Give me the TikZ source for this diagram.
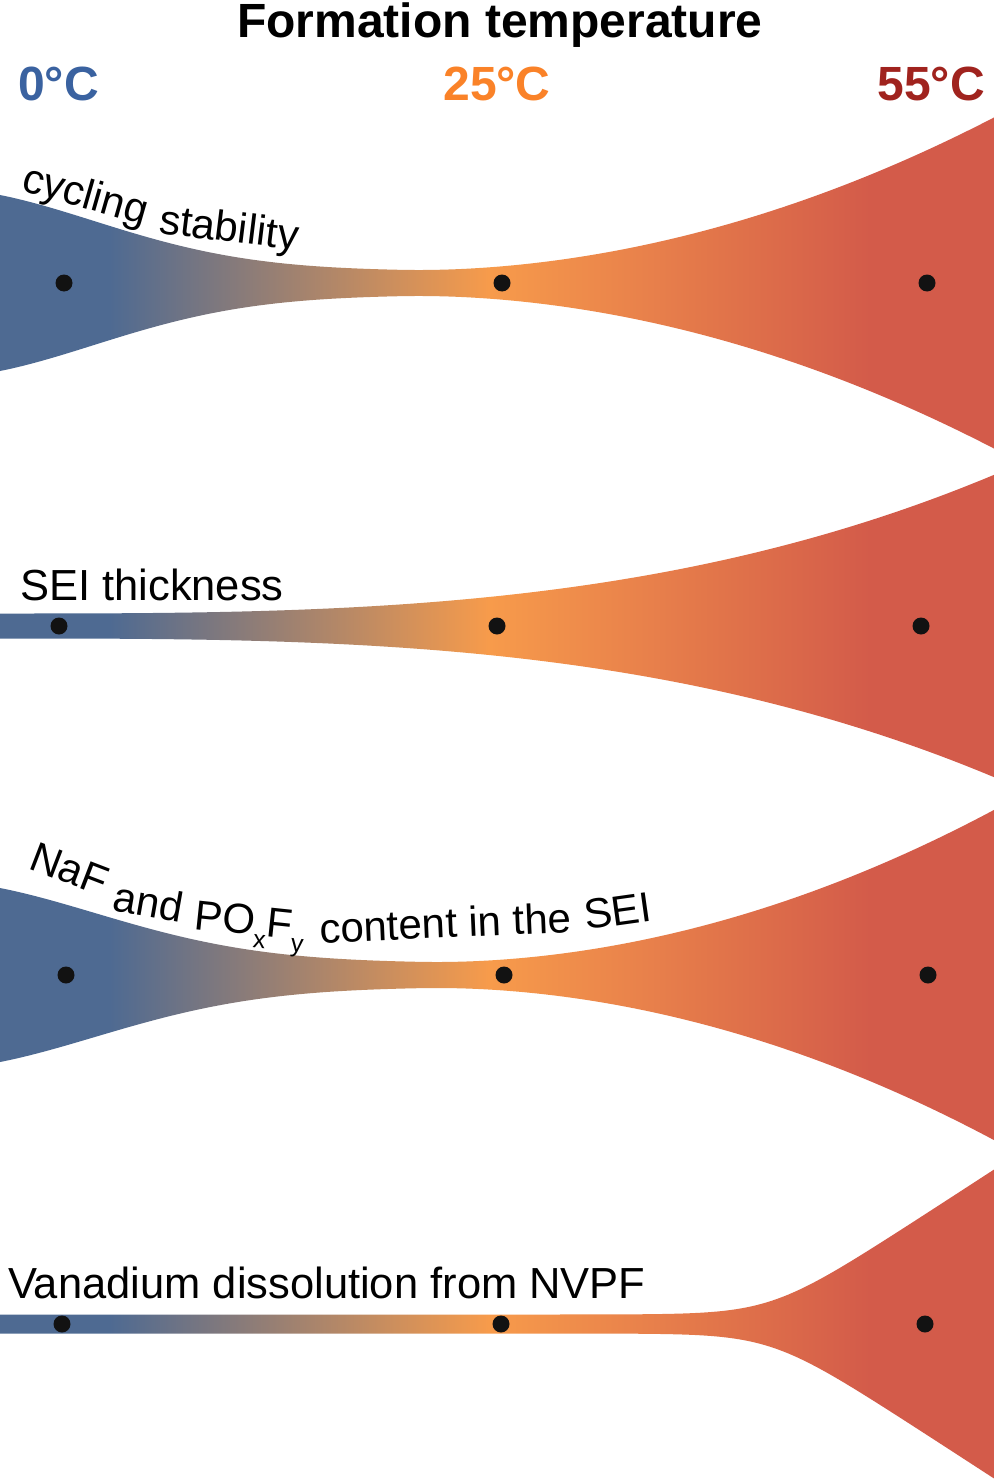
\documentclass[tikz,border=0pt]{standalone}
\usepackage{fontspec}
\setmainfont{Liberation Sans}
\definecolor{bandblue}{RGB}{78,106,146}
\definecolor{bandorange}{RGB}{247,155,75}
\definecolor{bandred}{RGB}{211,91,74}
\definecolor{tblue}{RGB}{58,98,160}
\definecolor{torange}{RGB}{250,130,40}
\definecolor{tred}{RGB}{160,35,30}
\pgfdeclarehorizontalshading{tempgrad}{100bp}{color(0bp)=(bandblue); color(30.5bp)=(bandblue); color(49.6bp)=(bandorange); color(68.8bp)=(bandred); color(100bp)=(bandred)}
\newcommand{\labfont}{\fontsize{43.5}{50}\selectfont}
\newcommand{\curvefont}{\fontsize{42}{50}\selectfont}
\newcommand{\subfont}{\fontsize{25}{30}\selectfont}
\newcommand{\headfont}{\fontsize{48}{56}\selectfont\bfseries}
\begin{document}
\begin{tikzpicture}[x=1pt,y=-1pt,
 declare function={
   hA(\x)=12+76*exp(-min(\x/380+(\x/227)*(\x/227),9))+153*(max(\x-400,0)/593)*(max(\x-400,0)/593);
   hB(\x)=12.5+137*(\x/990)*(\x/990)*(\x/990);
   hC(\x)=12+75*exp(-min(\x/380+(\x/240)*(\x/240),9))+152*(max(\x-420,0)/572)*(max(\x-420,0)/572);
   hD(\x)=9.5+19.5*ln(1+exp(max((\x-771)/30,-9)));
 },
 band/.style={shading=tempgrad},
 dot/.style={circle, fill=black!93, inner sep=0pt, minimum size=17pt},
 head/.style={font=\headfont, inner sep=0pt},
 lab/.style={font=\labfont, inner sep=0pt, text=black},
 word/.style={font=\curvefont, inner sep=0pt, text=black, anchor=base west},
]
\fill[white] (0,0) rectangle (994,1479);
\useasboundingbox (0,0) rectangle (994,1479);

% header
\node[head, anchor=base] (title) at (500,38) {Formation temperature};
\node[head, text=tblue, anchor=base west] (t0) at (18,101) {0°C};
\node[head, text=torange, anchor=base] (t25) at (497,101) {25°C};
\node[head, text=tred, anchor=base east] (t55) at (985,101) {55°C};

% band 1: cycling stability
\shade[band] plot[domain=0:994,samples=180] (\x,{283-hA(\x)}) -- plot[domain=994:0,samples=180] (\x,{283+hA(\x)}) -- cycle;
\node[dot] (a0) at (64,283) {};
\node[dot] (a25) at (502,283) {};
\node[dot] (a55) at (927,283) {};
\node[word, rotate=-16] (cyc) at (20,190) {cycling};
\node[word, rotate=-7] (stab) at (158,233) {stability};

% band 2: SEI thickness
\shade[band] plot[domain=0:994,samples=180] (\x,{626-hB(\x)}) -- plot[domain=994:0,samples=180] (\x,{626+hB(\x)}) -- cycle;
\node[dot] (b0) at (59,626) {};
\node[dot] (b25) at (497,626) {};
\node[dot] (b55) at (921,626) {};
\node[lab, anchor=base west] (seilab) at (20,600) {SEI thickness};

% band 3: NaF and POxFy content in the SEI
\shade[band] plot[domain=0:994,samples=180] (\x,{975-hC(\x)}) -- plot[domain=994:0,samples=180] (\x,{975+hC(\x)}) -- cycle;
\node[dot] (c0) at (66,975) {};
\node[dot] (c25) at (504,975) {};
\node[dot] (c55) at (928,975) {};
\node[word, rotate=-21] (naf) at (27,868) {NaF};
\node[word, rotate=-10] (and) at (111,910) {and};
\node[word, rotate=-6] (pox) at (193,929) {PO\raisebox{-12pt}{\subfont x}F\raisebox{-12pt}{\subfont y}};
\node[word, rotate=2.5] (cont) at (320,943) {content in the};
\node[word, rotate=8] (sei) at (586,930) {SEI};

% band 4: vanadium dissolution
\shade[band] plot[domain=0:994,samples=180] (\x,{1324-hD(\x)}) -- plot[domain=994:0,samples=180] (\x,{1324+hD(\x)}) -- cycle;
\node[dot] (d0) at (62,1324) {};
\node[dot] (d25) at (501,1324) {};
\node[dot] (d55) at (925,1324) {};
\node[lab, anchor=base west] (vanlab) at (8,1298) {Vanadium dissolution from NVPF};
\end{tikzpicture}
\end{document}
